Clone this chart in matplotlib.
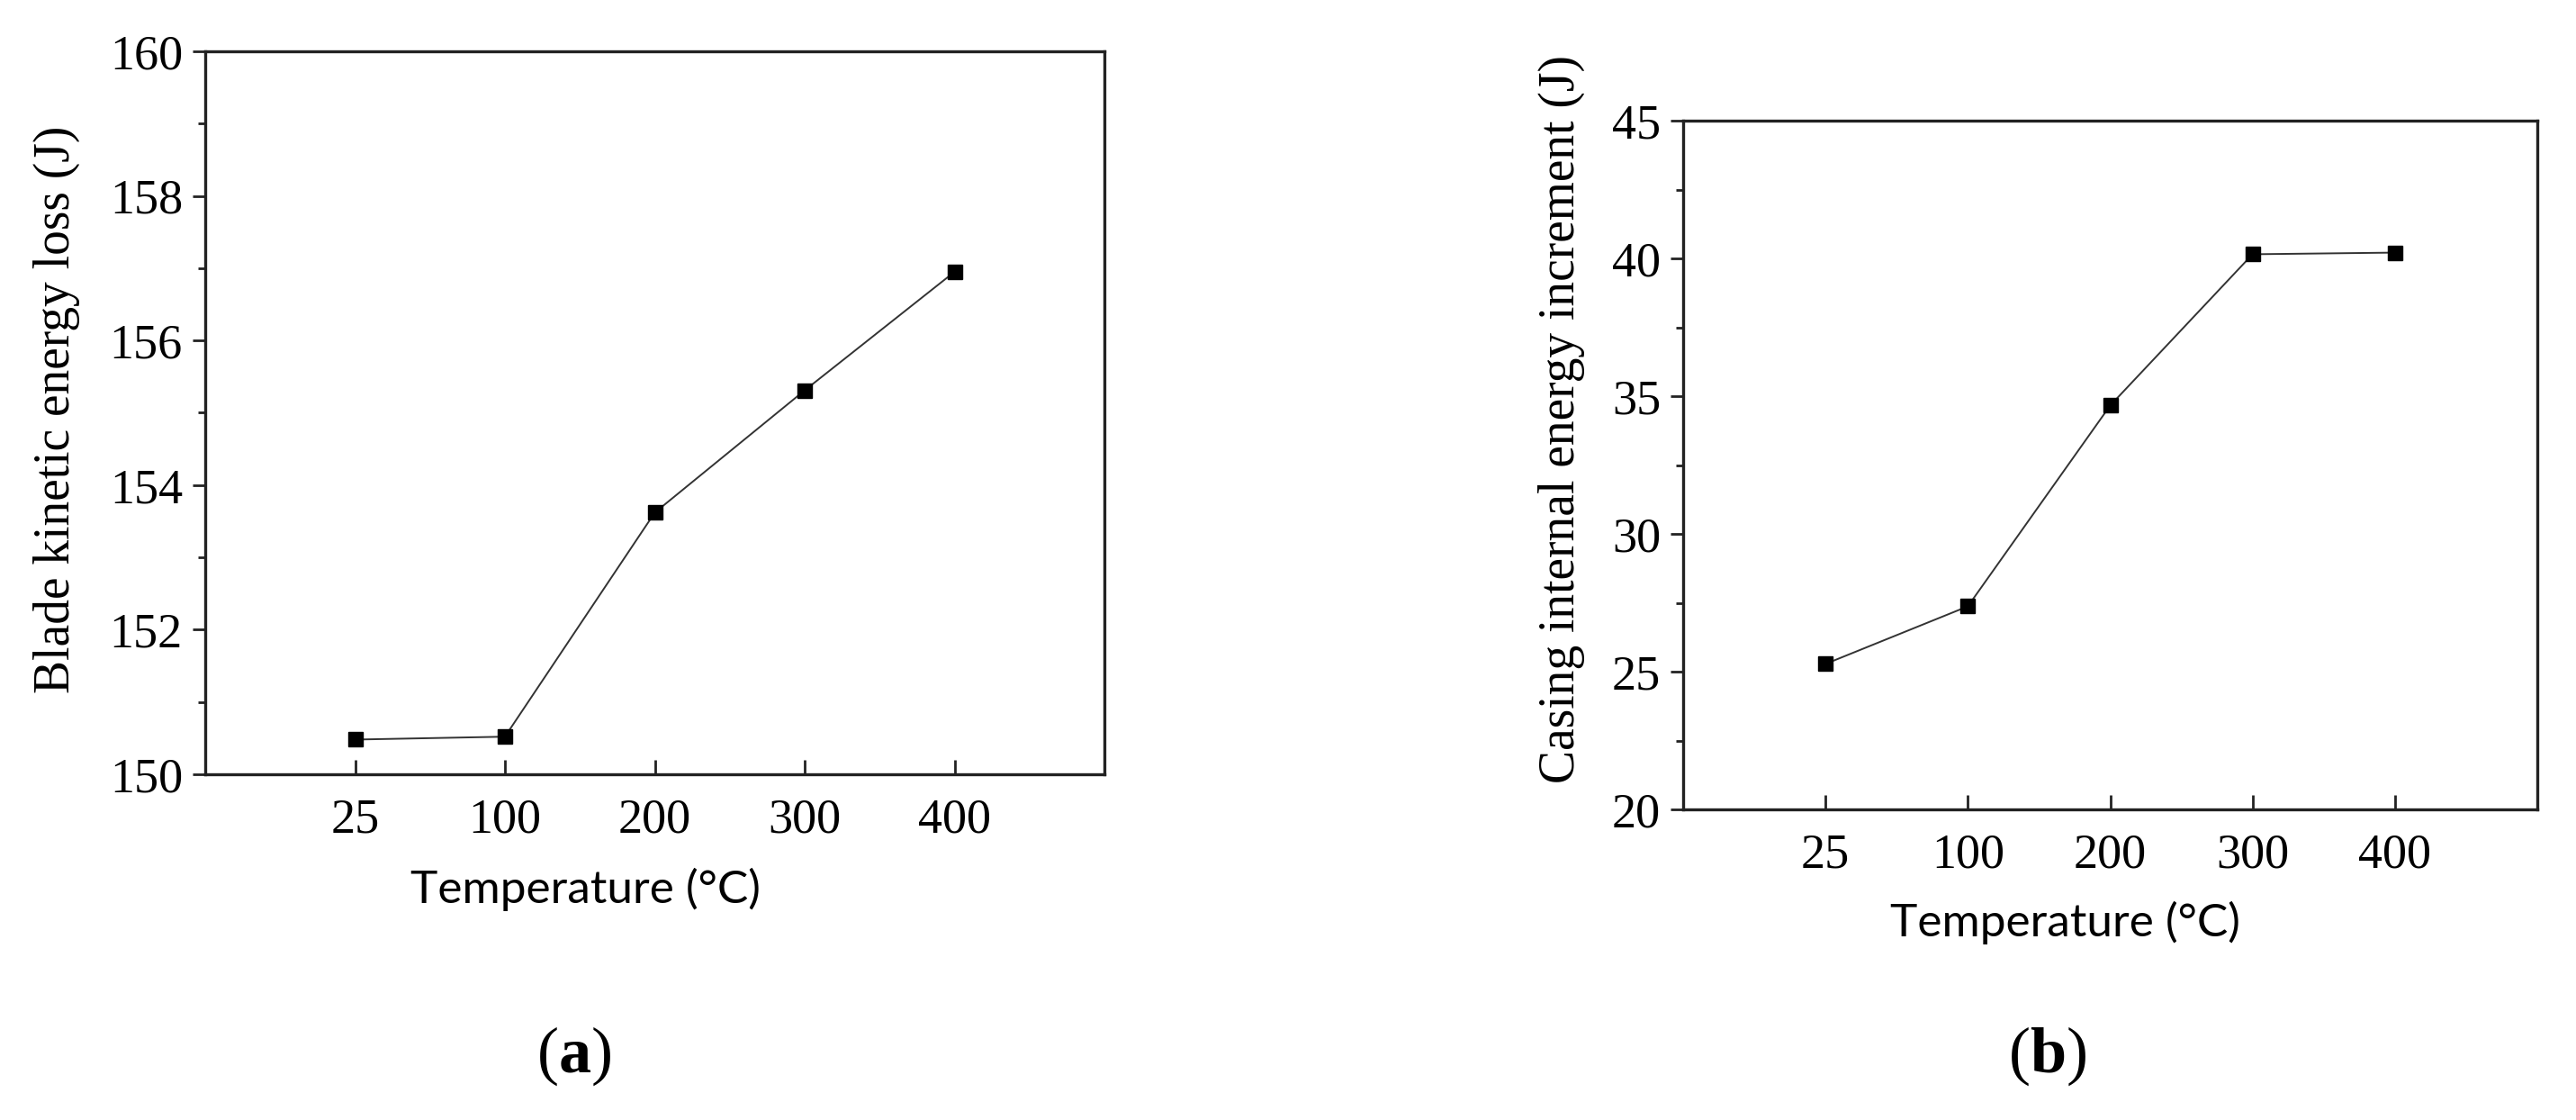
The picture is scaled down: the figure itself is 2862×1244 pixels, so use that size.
import matplotlib
matplotlib.use("Agg")
import matplotlib.pyplot as plt
from matplotlib.ticker import MultipleLocator

W, H = 2862, 1244
DPI = 100

temps = ["25", "100", "200", "300", "400"]
blade_loss = [150.48, 150.52, 153.62, 155.31, 156.95]
casing_inc = [25.28, 27.37, 34.66, 40.15, 40.21]

ylabel_a = "Blade kinetic energy loss (J)"
ylabel_b = "Casing internal energy increment (J)"
xlabel = "Temperature (°C)"
caption_a = r"($\mathbf{a}$)"
caption_b = r"($\mathbf{b}$)"

serif = "Liberation Serif"
sans = "Lato"

plt.rcParams["mathtext.fontset"] = "custom"
plt.rcParams["mathtext.rm"] = "Liberation Serif"
plt.rcParams["mathtext.bf"] = "Liberation Serif:bold"

fig = plt.figure(figsize=(W / DPI, H / DPI), dpi=DPI)


def px_rect(x0, y0, x1, y1):
    return [x0 / W, 1 - y1 / H, (x1 - x0) / W, (y1 - y0) / H]


def style_axes(ax, ylim, major, minor):
    x = list(range(len(temps)))
    ax.set_xlim(-1, len(temps))
    ax.set_ylim(*ylim)
    ax.set_xticks(x)
    ax.set_xticklabels(temps)
    ax.yaxis.set_major_locator(MultipleLocator(major))
    ax.yaxis.set_minor_locator(MultipleLocator(minor))
    for s in ax.spines.values():
        s.set_linewidth(2.4)
        s.set_color("#222222")
    ax.tick_params(axis="x", which="major", direction="in", length=11.5, width=2,
                   pad=19, labelsize=39, top=False, color="#222222")
    ax.tick_params(axis="y", which="major", direction="out", length=10, width=2,
                   pad=8, labelsize=39, right=False, color="#222222")
    ax.tick_params(axis="y", which="minor", direction="out", length=5.5, width=2,
                   right=False, color="#222222")
    for lab in ax.get_xticklabels() + ax.get_yticklabels():
        lab.set_fontfamily(serif)
    return x


ax1 = fig.add_axes(px_rect(228, 57, 1227, 860))
x = style_axes(ax1, (150, 160), 2, 1)
ax1.plot(x, blade_loss, color="#333333", lw=1.4, marker="s", ms=11,
         mfc="black", mec="black")

ax2 = fig.add_axes(px_rect(1870, 134, 2819, 899))
x = style_axes(ax2, (20, 45), 5, 2.5)
ax2.plot(x, casing_inc, color="#333333", lw=1.4, marker="s", ms=11,
         mfc="black", mec="black")


def ftext(px, py, s, **kw):
    fig.text(px / W, 1 - py / H, s, **kw)


ftext(63, 455, ylabel_a, rotation=90, ha="center", va="center",
      fontsize=40, family=serif)
ftext(1735, 465, ylabel_b, rotation=90, ha="center", va="center",
      fontsize=40, family=serif)
ftext(651, 988, xlabel, ha="center", va="center", fontsize=37, family=sans)
ftext(2295, 1025, xlabel, ha="center", va="center", fontsize=37, family=sans)

ftext(638, 1173, caption_a, ha="center", va="center", fontsize=52, family=serif)
ftext(2275, 1173, caption_b, ha="center", va="center", fontsize=52, family=serif)

fig.savefig("out.png", dpi=DPI)
